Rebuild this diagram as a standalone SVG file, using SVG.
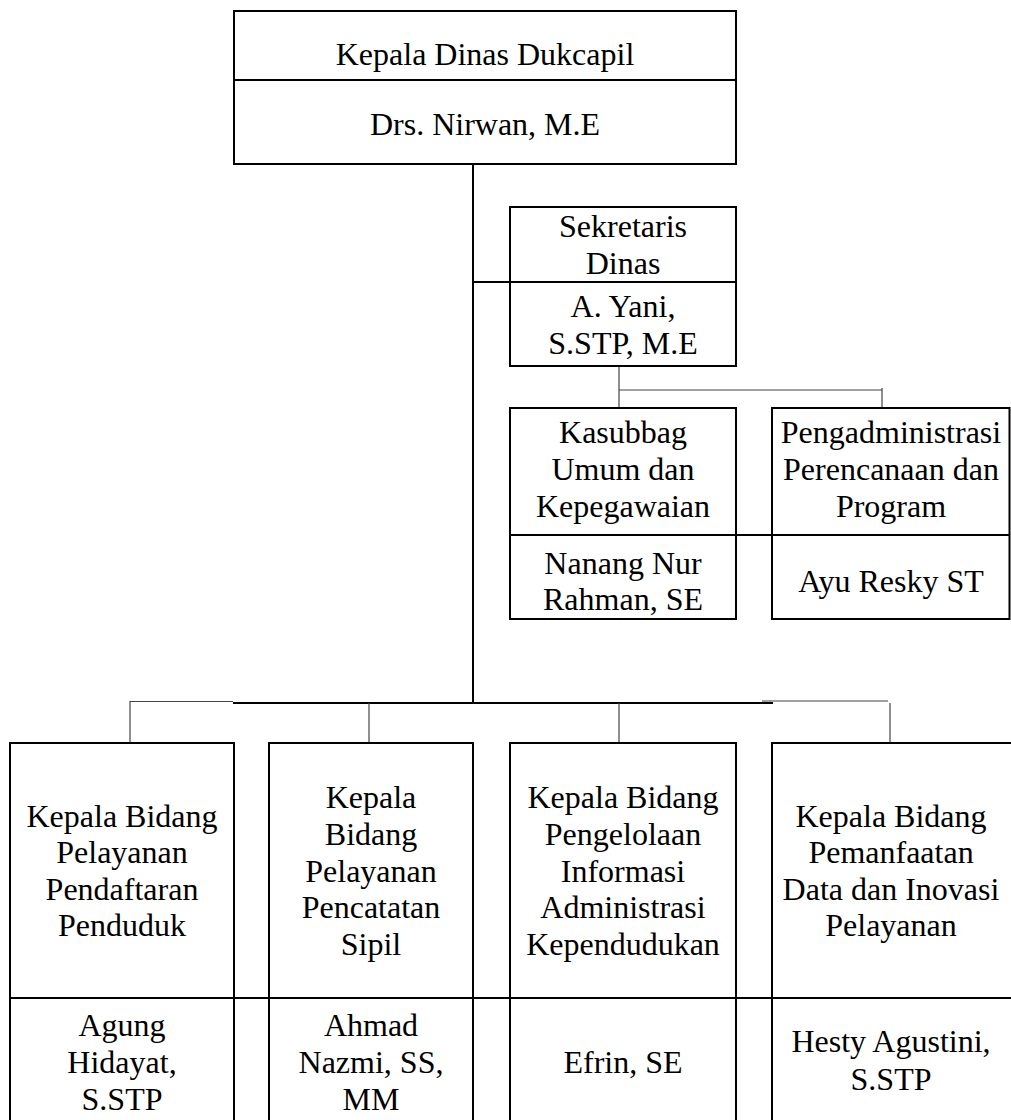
<svg xmlns="http://www.w3.org/2000/svg" width="1011" height="1120" viewBox="0 0 1011 1120">
<style>
.box{fill:#fff;stroke:#000;stroke-width:2}
.div{stroke:#000;stroke-width:2}
.t{font-family:"Liberation Serif","Times New Roman","DejaVu Serif",serif;font-size:32px;fill:#000;text-anchor:middle}
.thick{stroke:#000;stroke-width:2;fill:none}
.thin{stroke:#444;stroke-width:1.2;fill:none}
</style>
<rect width="1011" height="1120" fill="#fff"/>
<g id="connectors">
<line class="thick" x1="473" y1="164" x2="473" y2="704"/>
<line class="thick" x1="473" y1="282" x2="510" y2="282"/>
<line class="thin" x1="619" y1="366" x2="619" y2="408"/>
<line class="thin" x1="619" y1="390" x2="882" y2="390"/>
<line class="thin" x1="882" y1="388" x2="882" y2="408"/>
<line class="thick" x1="736" y1="535" x2="772" y2="535"/>
<line class="thin" x1="130" y1="701.5" x2="233" y2="701.5"/>
<line class="thick" x1="233" y1="703" x2="773" y2="703"/>
<line class="thin" x1="762" y1="701" x2="888" y2="701"/>
<line class="thin" x1="130" y1="701" x2="130" y2="742"/>
<line class="thin" x1="369" y1="703" x2="369" y2="742"/>
<line class="thin" x1="619" y1="703" x2="619" y2="742"/>
<line class="thin" x1="890" y1="703" x2="890" y2="742"/>
<line class="thick" x1="234" y1="998" x2="269" y2="998"/>
<line class="thick" x1="473" y1="998" x2="510" y2="998"/>
<line class="thick" x1="736" y1="998" x2="772" y2="998"/>
</g>
<g id="kepala-dinas">
<rect class="box" x="234" y="11" width="502" height="153"/>
<line class="div" x1="234" y1="80" x2="736" y2="80"/>
<text class="t" x="485" y="65">Kepala Dinas Dukcapil</text>
<text class="t" x="485" y="135">Drs. Nirwan, M.E</text>
</g>
<g id="sekretaris">
<rect class="box" x="510" y="207" width="226" height="159"/>
<line class="div" x1="510" y1="282" x2="736" y2="282"/>
<text class="t" x="623" y="237">Sekretaris</text>
<text class="t" x="623" y="274">Dinas</text>
<text class="t" x="623" y="317">A. Yani,</text>
<text class="t" x="623" y="354">S.STP, M.E</text>
</g>
<g id="kasubbag">
<rect class="box" x="510" y="408" width="226" height="211"/>
<line class="div" x1="510" y1="535" x2="736" y2="535"/>
<text class="t" x="623" y="443">Kasubbag</text>
<text class="t" x="623" y="480">Umum dan</text>
<text class="t" x="623" y="517">Kepegawaian</text>
<text class="t" x="623" y="574">Nanang Nur</text>
<text class="t" x="623" y="610">Rahman, SE</text>
</g>
<g id="pengadministrasi">
<rect class="box" x="772" y="408" width="237.5" height="211"/>
<line class="div" x1="772" y1="535" x2="1009.5" y2="535"/>
<text class="t" x="891" y="443">Pengadministrasi</text>
<text class="t" x="891" y="480">Perencanaan dan</text>
<text class="t" x="891" y="517">Program</text>
<text class="t" x="891" y="592">Ayu Resky ST</text>
</g>
<g id="bidang-pendaftaran">
<rect class="box" x="10" y="743" width="224" height="385"/>
<line class="div" x1="10" y1="998" x2="234" y2="998"/>
<text class="t" x="122" y="826.5">Kepala Bidang</text>
<text class="t" x="122" y="863">Pelayanan</text>
<text class="t" x="122" y="899.5">Pendaftaran</text>
<text class="t" x="122" y="936">Penduduk</text>
<text class="t" x="122" y="1036">Agung</text>
<text class="t" x="122" y="1073">Hidayat,</text>
<text class="t" x="122" y="1110">S.STP</text>
</g>
<g id="bidang-pencatatan">
<rect class="box" x="269" y="743" width="204" height="385"/>
<line class="div" x1="269" y1="998" x2="473" y2="998"/>
<text class="t" x="371" y="808">Kepala</text>
<text class="t" x="371" y="845">Bidang</text>
<text class="t" x="371" y="881.5">Pelayanan</text>
<text class="t" x="371" y="918">Pencatatan</text>
<text class="t" x="371" y="955">Sipil</text>
<text class="t" x="371" y="1036">Ahmad</text>
<text class="t" x="371" y="1073">Nazmi, SS,</text>
<text class="t" x="371" y="1110">MM</text>
</g>
<g id="bidang-informasi">
<rect class="box" x="510" y="743" width="226" height="385"/>
<line class="div" x1="510" y1="998" x2="736" y2="998"/>
<text class="t" x="623" y="808">Kepala Bidang</text>
<text class="t" x="623" y="845">Pengelolaan</text>
<text class="t" x="623" y="881.5">Informasi</text>
<text class="t" x="623" y="918">Administrasi</text>
<text class="t" x="623" y="955">Kependudukan</text>
<text class="t" x="623" y="1073">Efrin, SE</text>
</g>
<g id="bidang-pemanfaatan">
<rect class="box" x="772" y="743" width="241" height="385"/>
<line class="div" x1="772" y1="998" x2="1013" y2="998"/>
<text class="t" x="891" y="826.5">Kepala Bidang</text>
<text class="t" x="891" y="863">Pemanfaatan</text>
<text class="t" x="891" y="899.5">Data dan Inovasi</text>
<text class="t" x="891" y="936">Pelayanan</text>
<text class="t" x="891" y="1052">Hesty Agustini,</text>
<text class="t" x="891" y="1090">S.STP</text>
</g>
</svg>
